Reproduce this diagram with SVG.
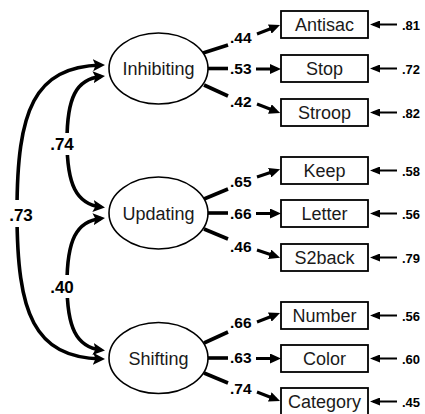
<svg xmlns="http://www.w3.org/2000/svg" width="425" height="414" viewBox="0 0 425 414">
<defs>
<style>
.lat{fill:#fff;stroke:#000;stroke-width:1.6}
.box{fill:#fff;stroke:#000;stroke-width:1.8}
.nt{font-family:"Liberation Sans",Arial,sans-serif;font-size:18px;fill:#1a1a1a;text-anchor:middle}
.ld{stroke:#000;stroke-width:3.6;fill:none}
.ar{stroke:#000;stroke-width:3;fill:none;marker-end:url(#hd)}
.er{stroke:#000;stroke-width:2;fill:none;marker-end:url(#eh)}
.cr{stroke:#000;stroke-width:3.6;fill:none;marker-start:url(#ch);marker-end:url(#ch)}
.lb{font-family:"Liberation Sans",Arial,sans-serif;font-weight:bold;font-size:15.5px;fill:#000}
.el{font-family:"Liberation Sans",Arial,sans-serif;font-weight:bold;font-size:13px;fill:#000}
.cl{font-family:"Liberation Sans",Arial,sans-serif;font-weight:bold;font-size:17px;fill:#000;text-anchor:middle}
</style>
<marker id="hd" markerUnits="userSpaceOnUse" markerWidth="11" markerHeight="10" refX="7" refY="5" orient="auto"><path d="M0,0 L11,5 L0,10 z" fill="#000"/></marker>
<marker id="eh" markerUnits="userSpaceOnUse" markerWidth="10" markerHeight="8" refX="7" refY="4" orient="auto"><path d="M0,0 L10,4 L0,8 z" fill="#000"/></marker>
<marker id="ch" markerUnits="userSpaceOnUse" markerWidth="12" markerHeight="12" refX="8" refY="6" orient="auto-start-reverse"><path d="M0,0 L12,6 L0,12 L2.5,6 z" fill="#000"/></marker>
</defs>

<g id="connectors">
<path class="cr" d="M101,65 C34,67 17,110 17,212 C17,314 34,357 101,359"/>
<path class="cr" d="M101,76.5 C76,79 67,98 67,141 C67,184 76,204 101,207"/>
<path class="cr" d="M101,218.5 C76,221 67,241 67,284 C67,327 76,347 101,350"/>
<rect x="46" y="133" width="32" height="22" fill="#fff"/>
<rect x="46" y="275" width="32" height="23" fill="#fff"/>
<rect x="5" y="200" width="30" height="27" fill="#fff"/>
<text class="cl" x="62" y="150">.74</text>
<text class="cl" x="62" y="293">.40</text>
<text class="cl" x="21" y="221">.73</text>

<path class="ld" d="M203,53 L228,45"/>
<path class="ld" d="M208,68.5 L228,68.5"/>
<path class="ld" d="M204,85 L228,96"/>
<text class="lb" x="230" y="43">.44</text>
<text class="lb" x="230" y="74">.53</text>
<text class="lb" x="230" y="107">.42</text>
<path class="ar" d="M257,34 L276.3,26.5"/>
<path class="ar" d="M256,69 L277,69"/>
<path class="ar" d="M257,104 L276.4,111.5"/>

<path class="ld" d="M204,199 L228,189"/>
<path class="ld" d="M208,213 L228,213"/>
<path class="ld" d="M204,229 L228,239"/>
<text class="lb" x="230" y="187">.65</text>
<text class="lb" x="230" y="219">.66</text>
<text class="lb" x="230" y="252">.46</text>
<path class="ar" d="M257,177 L276.3,170.5"/>
<path class="ar" d="M256,213.5 L277,213.5"/>
<path class="ar" d="M257,250 L276.3,256.5"/>

<path class="ld" d="M204,343 L228,332"/>
<path class="ld" d="M208,358 L228,358"/>
<path class="ld" d="M204,373 L228,383"/>
<text class="lb" x="230" y="328">.66</text>
<text class="lb" x="230" y="363">.63</text>
<text class="lb" x="230" y="394">.74</text>
<path class="ar" d="M257,322 L276.3,314.5"/>
<path class="ar" d="M256,358.5 L277,358.5"/>
<path class="ar" d="M257,392 L276.3,399.5"/>

<path class="er" d="M397,24.5 L373,24.5"/>
<path class="er" d="M397,68.5 L373,68.5"/>
<path class="er" d="M397,112.5 L373,112.5"/>
<path class="er" d="M397,170.5 L373,170.5"/>
<path class="er" d="M397,213.5 L373,213.5"/>
<path class="er" d="M397,257.5 L373,257.5"/>
<path class="er" d="M397,315.5 L373,315.5"/>
<path class="er" d="M397,358.5 L373,358.5"/>
<path class="er" d="M397,401.5 L373,401.5"/>
<text class="el" x="402" y="29.5">.81</text>
<text class="el" x="402" y="73.5">.72</text>
<text class="el" x="402" y="117.5">.82</text>
<text class="el" x="402" y="175.5">.58</text>
<text class="el" x="402" y="218.5">.56</text>
<text class="el" x="402" y="262.5">.79</text>
<text class="el" x="402" y="320.5">.56</text>
<text class="el" x="402" y="363.5">.60</text>
<text class="el" x="402" y="406.5">.45</text>
</g>

<g id="inhibiting"><ellipse class="lat" cx="158.5" cy="68.5" rx="49.5" ry="35.5"/><text class="nt" x="158.5" y="75">Inhibiting</text></g>
<g id="updating"><ellipse class="lat" cx="158.5" cy="213" rx="49.5" ry="36"/><text class="nt" x="158.5" y="220">Updating</text></g>
<g id="shifting"><ellipse class="lat" cx="158.5" cy="358" rx="49.5" ry="35.5"/><text class="nt" x="158.5" y="364.5">Shifting</text></g>

<g id="antisac"><rect class="box" x="281" y="11" width="87" height="27"/><text class="nt" x="324.5" y="31">Antisac</text></g>
<g id="stop"><rect class="box" x="281" y="55" width="87" height="27"/><text class="nt" x="324.5" y="75">Stop</text></g>
<g id="stroop"><rect class="box" x="281" y="99" width="87" height="27"/><text class="nt" x="324.5" y="119">Stroop</text></g>
<g id="keep"><rect class="box" x="281" y="157" width="87" height="27"/><text class="nt" x="324.5" y="177">Keep</text></g>
<g id="letter"><rect class="box" x="281" y="200" width="87" height="27"/><text class="nt" x="324.5" y="220">Letter</text></g>
<g id="s2back"><rect class="box" x="281" y="244" width="87" height="27"/><text class="nt" x="324.5" y="264">S2back</text></g>
<g id="number"><rect class="box" x="281" y="302" width="87" height="27"/><text class="nt" x="324.5" y="322">Number</text></g>
<g id="color"><rect class="box" x="281" y="345" width="87" height="27"/><text class="nt" x="324.5" y="365">Color</text></g>
<g id="category"><rect class="box" x="281" y="388" width="87" height="27"/><text class="nt" x="324.5" y="408">Category</text></g>
</svg>
